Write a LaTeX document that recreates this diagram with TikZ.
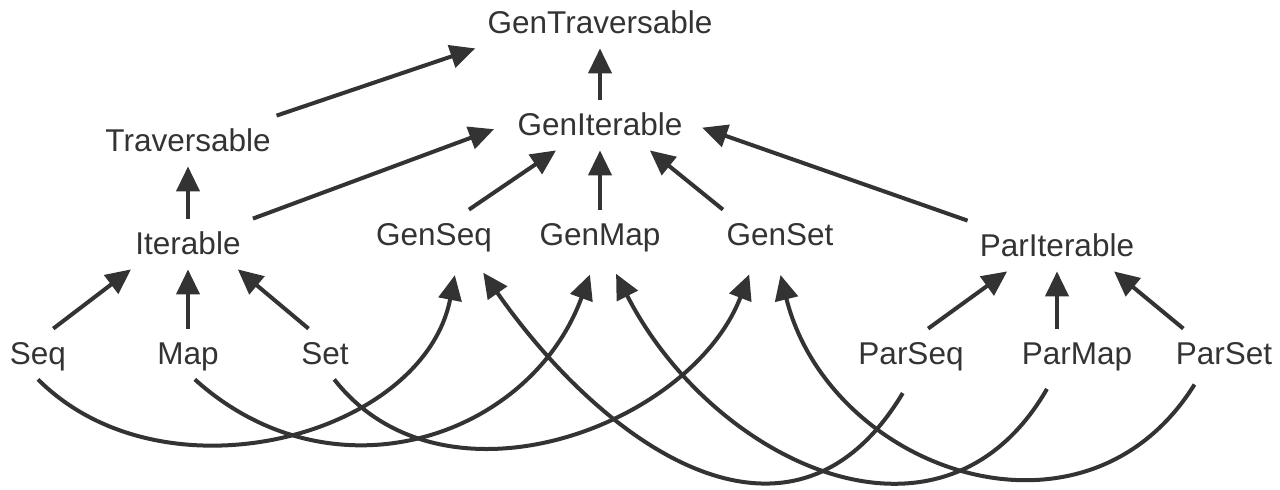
\documentclass[tikz,border=0pt]{standalone}
\usepackage{fontspec}
\setmainfont{Liberation Sans}
\usetikzlibrary{arrows.meta,positioning}
\definecolor{ink}{HTML}{333333}

\begin{document}
\begin{tikzpicture}[
    x=0.5pt, y=0.5pt,
    on grid,
    cls/.style={text=ink,font=\fontsize{15.75}{18}\selectfont,text height=13.5pt,text depth=3.5pt,inner xsep=6pt,inner ysep=4pt},
    arrow/.style={-{Triangle[length=12.5pt,width=11.5pt]},line width=2pt,draw=ink},
    bow/.style={arrow,shorten >=7.5pt}
  ]
    \useasboundingbox (0,0) rectangle (1280,489);
    % sequential side
    \node[cls] (it) at (188,245) {Iterable};
    \node[cls,above=51.5pt of it] (trav) {Traversable};
    \node[cls,below=55pt of it] (map) {Map};
    \node[cls,left=75pt of map] (seq) {Seq};
    \node[cls,right=68.5pt of map] (set) {Set};
    % general side
    \node[cls] (gm) at (600,254) {GenMap};
    \node[cls,left=83pt of gm] (gs) {GenSeq};
    \node[cls,right=90pt of gm] (gset) {GenSet};
    \node[cls,above=55pt of gm] (gi) {GenIterable};
    \node[cls,above=51pt of gi] (gt) {GenTraversable};
    % parallel side
    \node[cls] (pi) at (1057,243) {ParIterable};
    \node[cls,below right=54pt and 10pt of pi] (pmap) {ParMap};
    \node[cls,left=83pt of pmap] (pseq) {ParSeq};
    \node[cls,right=73.5pt of pmap] (pset) {ParSet};

    \draw[arrow] (trav.16) -- (gt.south west);
    \draw[arrow] (gi) -- (gt);
    \draw[arrow] (it) -- (trav);
    \draw[arrow,shorten >=6pt] (it.north east) -- (gi.west);
    \draw[arrow] (gs.36) -- (gi.-150);
    \draw[arrow] (gm) -- (gi);
    \draw[arrow] (gset.156) -- (gi.-27);
    \draw[arrow,shorten >=4pt] (pi.north west) -- (gi.east);
    \draw[arrow] (seq.59) -- (it.-156);
    \draw[arrow] (map) -- (it);
    \draw[arrow] (set.123) -- (it.-27);
    \draw[arrow] (pseq.56) -- (pi.-153);
    \draw[arrow] (pi.south |- pmap.north) -- (pi.south);
    \draw[arrow] (pset.148) -- (pi.-24);

    % sequential and parallel kinds into the general ones
    \draw[bow] (seq.south) to[out=-45,in=-101,looseness=1.05] (gs.-47);
    \draw[bow] (map.-75) to[out=-42,in=-110,looseness=1.15] (gm.-101);
    \draw[bow] (set.-70) to[out=-52,in=-111,looseness=1.04] (gset.-135);
    \draw[bow,shorten <=8pt] (pseq.south) to[out=-121,in=-55,looseness=1.3] (gs.-32);
    \draw[bow,shorten <=5.5pt] (pmap.-134) to[out=-120,in=-63,looseness=1.25] (gm.-70);
    \draw[bow,shorten <=3pt] (pset.-136) to[out=-122,in=-76,looseness=1.26] (gset.-97);
  \end{tikzpicture}
\end{document}
